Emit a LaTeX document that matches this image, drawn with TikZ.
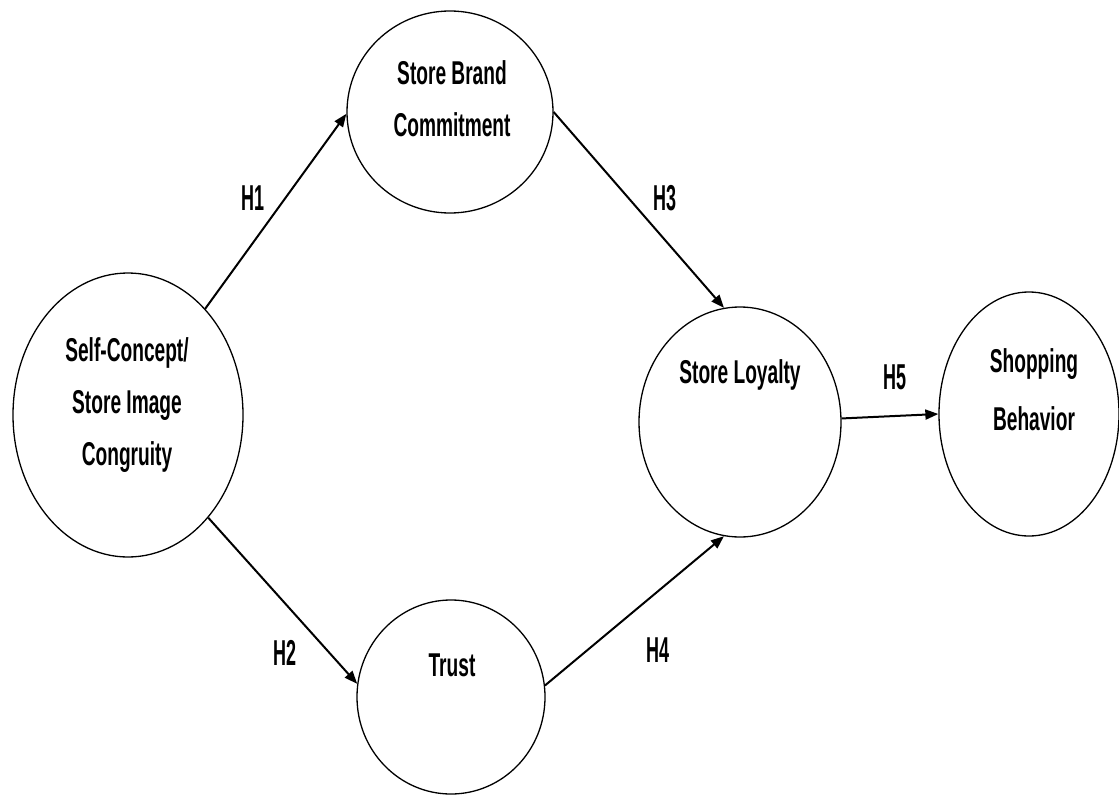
\documentclass[tikz,border=0pt]{standalone}
\usepackage{fontspec}
\newfontfamily\lbl{Liberation Sans}[FakeStretch=0.58]
\newfontfamily\hlbl{Liberation Sans}[FakeStretch=0.5]
\usetikzlibrary{shapes.geometric,arrows.meta}
\begin{document}
\begin{tikzpicture}[x=1pt,y=-1pt,
  construct/.style={draw=black,line width=1.3pt,ellipse,inner sep=0pt,fill=white},
  txt/.style={inner sep=0pt,align=center,font=\lbl\bfseries\fontsize{33}{52}\selectfont},
  hyp/.style={inner sep=0pt,font=\hlbl\bfseries\fontsize{36}{40}\selectfont},
  arr/.style={line width=2pt,-{Triangle[length=13pt,width=10pt]}}]
\useasboundingbox (0,0) rectangle (1119,795);
\clip (0,0) rectangle (1119,795);
\fill[white] (0,0) rectangle (1119,795);
% constructs
\node[construct,minimum width=230pt,minimum height=284pt] (sc) at (128,415) {};
\node[construct,minimum width=206pt,minimum height=202pt] (sbc) at (450,112) {};
\node[construct,minimum width=188pt,minimum height=194pt] (tr) at (451,697) {};
\node[construct,minimum width=202pt,minimum height=230pt] (sl) at (740,422) {};
\node[construct,minimum width=180pt,minimum height=244pt] (sb) at (1029,414) {};
% texts
\node[txt] (tsc) at (127,405) {Self-Concept/\\Store Image\\Congruity};
\node[txt] (tsbc) at (452,99) {Store Brand\\Commitment};
\node[txt] (ttr) at (452,665) {Trust};
\node[txt] (tsl) at (740,375) {Store Loyalty};
\node[txt,font=\lbl\bfseries\fontsize{33}{58}\selectfont] (tsb) at (1034,390) {Shopping\\Behavior};
% paths
\draw[arr] (sc.54.5) -- (sbc.181.7);
\draw[arr] (sc.-52.4) -- (tr.172.7);
\draw[arr] (sbc.-0.6) -- (sl.98.5);
\draw[arr] (tr.7.4) -- (sl.262.4);
\draw[arr] (sl.2.9) -- (sb.180);
% hypothesis labels
\node[hyp] (h1) at (253,198) {H1};
\node[hyp] (h2) at (285,653) {H2};
\node[hyp] (h3) at (665,198) {H3};
\node[hyp] (h4) at (658,650) {H4};
\node[hyp] (h5) at (895,377) {H5};
\end{tikzpicture}
\end{document}
